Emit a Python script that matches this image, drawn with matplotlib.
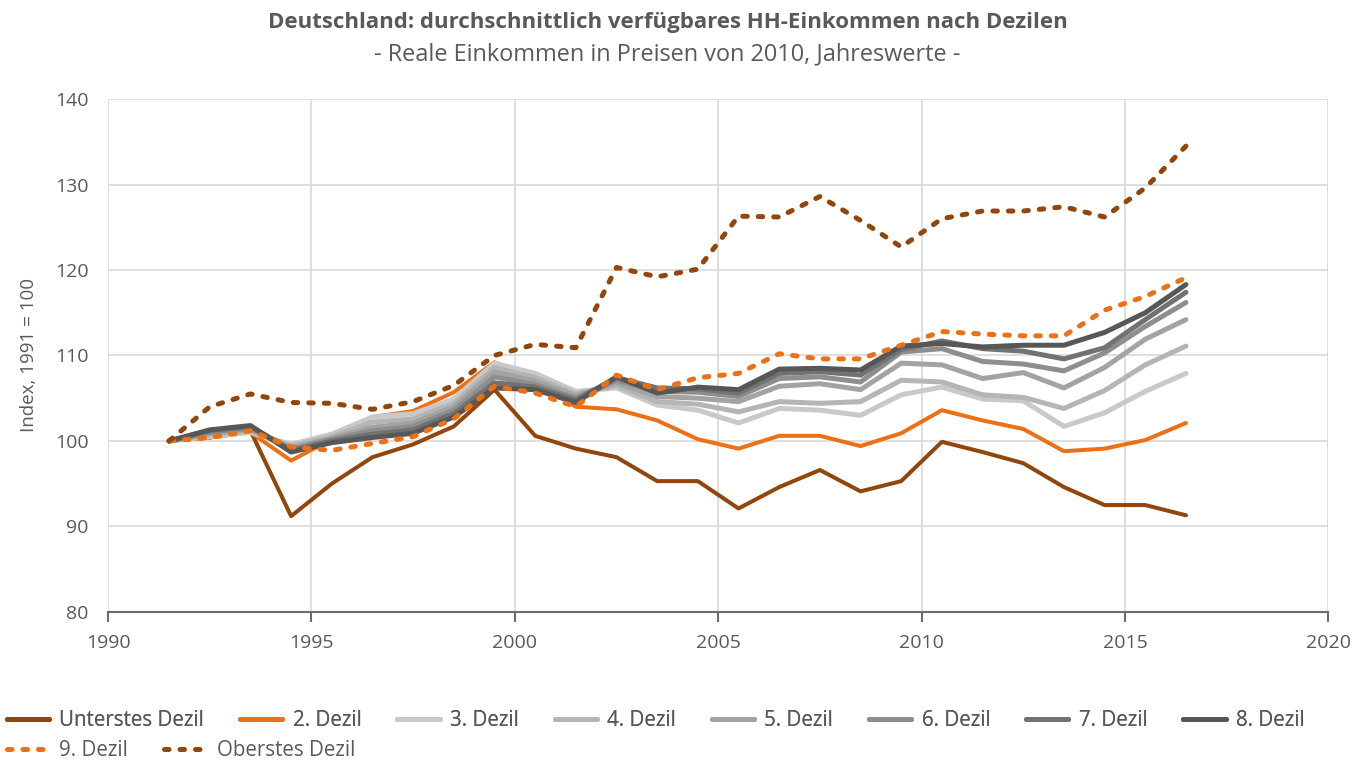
import matplotlib.pyplot as plt
from matplotlib.lines import Line2D
import numpy as np

plt.rcParams["font.family"] = ["Open Sans", "DejaVu Sans"]

# Jahre (Werte jeweils zur Jahresmitte geplottet)
years = list(range(1991, 2017))

unterstes = [100, 100.4, 101.2, 91.2, 95.0, 98.1, 99.6, 101.7, 106.0, 100.6, 99.1, 98.1, 95.3,
             95.3, 92.1, 94.6, 96.6, 94.1, 95.3, 99.9, 98.7, 97.4, 94.6, 92.5, 92.5, 91.3]
dezil2 = [100, 100.4, 101.0, 97.7, 100.2, 102.8, 103.5, 105.7, 109.2, 107.2, 104.0, 103.7, 102.4,
          100.2, 99.1, 100.6, 100.6, 99.4, 100.9, 103.6, 102.4, 101.4, 98.8, 99.1, 100.1, 102.1]
dezil3 = [100, 100.5, 101.0, 99.6, 100.8, 102.8, 103.2, 104.9, 109.1, 107.9, 105.8, 106.2, 104.2,
          103.6, 102.1, 103.8, 103.6, 103.0, 105.4, 106.3, 104.9, 104.7, 101.7, 103.3, 105.8, 107.9]
dezil4 = [100, 100.7, 101.2, 99.4, 100.5, 102.2, 102.6, 104.4, 108.6, 107.4, 105.5, 106.5, 104.6,
          104.3, 103.4, 104.6, 104.4, 104.6, 107.1, 106.9, 105.4, 105.1, 103.8, 105.9, 108.9, 111.1]
dezil5 = [100, 100.9, 101.4, 99.2, 100.3, 101.6, 102.1, 104.0, 108.1, 107.0, 105.3, 106.8, 105.2,
          105.0, 104.6, 106.4, 106.7, 106.0, 109.1, 108.9, 107.3, 108.0, 106.2, 108.6, 111.9, 114.2]
dezil6 = [100, 101.0, 101.5, 99.0, 100.2, 101.2, 101.7, 103.6, 107.5, 106.6, 105.0, 107.1, 105.8,
          105.7, 105.2, 107.3, 107.5, 106.9, 110.4, 110.8, 109.3, 109.0, 108.2, 110.3, 113.4, 116.2]
dezil7 = [100, 101.2, 101.7, 98.9, 100.0, 100.8, 101.3, 103.2, 106.8, 106.3, 104.8, 107.4, 106.2,
          106.1, 105.6, 107.9, 108.1, 107.7, 110.7, 111.7, 110.8, 110.5, 109.6, 110.9, 114.2, 117.4]
dezil8 = [100, 101.3, 101.8, 98.7, 99.8, 100.4, 100.9, 102.8, 106.2, 106.0, 104.5, 107.5, 105.6,
          106.3, 106.0, 108.4, 108.5, 108.3, 111.1, 111.4, 111.0, 111.2, 111.2, 112.7, 115.0, 118.3]
dezil9 = [100, 100.4, 101.2, 99.3, 98.9, 99.7, 100.5, 102.6, 106.4, 105.6, 104.0, 107.7, 106.0,
          107.4, 107.9, 110.2, 109.6, 109.6, 111.2, 112.8, 112.5, 112.3, 112.3, 115.3, 116.9, 119.1]
oberstes = [100, 104.0, 105.5, 104.5, 104.4, 103.7, 104.6, 106.5, 110.0, 111.3, 110.9, 120.3, 119.2,
            120.1, 126.3, 126.2, 128.6, 125.8, 122.7, 126.0, 126.9, 126.9, 127.4, 126.2, 129.6, 134.5]

labels = ["Unterstes Dezil", "2. Dezil", "3. Dezil", "4. Dezil", "5. Dezil",
          "6. Dezil", "7. Dezil", "8. Dezil", "9. Dezil", "Oberstes Dezil"]
series = [unterstes, dezil2, dezil3, dezil4, dezil5, dezil6, dezil7, dezil8, dezil9, oberstes]

brown = "#93460b"
orange = "#ec7016"
colors = [brown, orange, "#c9c9c9", "#b5b5b5", "#a3a3a3", "#8e8e8e", "#727272", "#575757", orange, brown]
widths = [2.9, 2.9, 3.6, 3.6, 3.6, 3.6, 3.6, 3.6, 3.6, 3.6]
dashed = [False] * 8 + [True, True]

text_col = "#595959"

fig = plt.figure(figsize=(13.68, 7.62), dpi=100)
ax = fig.add_axes([0.079, 0.197, 0.892, 0.673])

x = np.array(years) + 0.5
for vals, lab, c, lw, d in zip(series, labels, colors, widths, dashed):
    if d:
        ax.plot(x, vals, color=c, lw=lw, linestyle=(0, (0.9, 2.2)),
                dash_capstyle="round", solid_joinstyle="round", label=lab)
    else:
        ax.plot(x, vals, color=c, lw=lw, solid_joinstyle="round",
                solid_capstyle="round", label=lab)

ax.set_xlim(1990, 2020)
ax.set_ylim(80, 140)
ax.set_xticks(range(1990, 2021, 5))
ax.set_yticks(range(80, 141, 10))
ax.grid(True, color="#d9d9d9", lw=1.2)
ax.set_axisbelow(True)
for s in ["top", "right", "left"]:
    ax.spines[s].set_visible(False)
ax.spines["bottom"].set_color("#6b6b6b")
ax.spines["bottom"].set_linewidth(1.5)
ax.tick_params(axis="x", direction="out", length=7, width=1.5, color="#6b6b6b",
               labelsize=14, labelcolor=text_col, pad=9)
ax.tick_params(axis="y", length=0, labelsize=14, labelcolor=text_col, pad=14)
ax.set_ylabel("Index, 1991 = 100", fontsize=13.5, color=text_col, labelpad=12)

fig.text(0.488, 0.971, "Deutschland: durchschnittlich verfügbares HH-Einkommen nach Dezilen",
         ha="center", va="center", fontsize=16, fontweight="bold", color=text_col)
fig.text(0.488, 0.929, "- Reale Einkommen in Preisen von 2010, Jahreswerte -",
         ha="center", va="center", fontsize=16.9, color=text_col)

leg_kw = dict(frameon=False, fontsize=14.8, handlelength=2.05, handletextpad=0.5,
              columnspacing=1.75, borderpad=0.0, borderaxespad=0.0, labelcolor=text_col)


def leg_handle(c, lw, d):
    if d:
        return Line2D([], [], color=c, lw=lw, linestyle=(0, (0.9, 2.2)), dash_capstyle="round")
    return Line2D([], [], color=c, lw=lw, solid_capstyle="round")


h1 = [leg_handle(c, 3.6, d) for c, d in zip(colors[:8], dashed[:8])]
h2 = [leg_handle(c, 3.6, d) for c, d in zip(colors[8:], dashed[8:])]
leg1 = fig.legend(h1, labels[:8], loc="center left", bbox_to_anchor=(0.005, 0.054), ncol=8, **leg_kw)
fig.add_artist(leg1)
fig.legend(h2, labels[8:], loc="center left", bbox_to_anchor=(0.005, 0.015), ncol=2, **leg_kw)

fig.savefig("out.png", dpi=100)
